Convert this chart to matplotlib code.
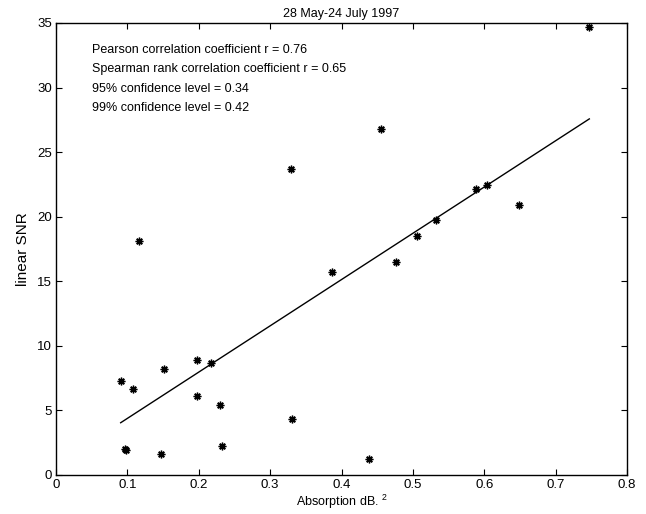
import numpy as np
import matplotlib
matplotlib.use("Agg")
import matplotlib.pyplot as plt

plt.rcParams['font.family'] = ['Liberation Sans', 'DejaVu Sans']
plt.rcParams['mathtext.fontset'] = 'custom'
plt.rcParams['mathtext.rm'] = 'Liberation Sans'
plt.rcParams['mathtext.it'] = 'Liberation Sans'

absorption = [0.0906, 0.1074, 0.0967, 0.0975, 0.147, 0.1518, 0.197, 0.197,
              0.2167, 0.2293, 0.233, 0.330, 0.3862, 0.4764, 0.4381, 0.7472,
              0.4553, 0.5884, 0.6034, 0.6483, 0.5328, 0.5062, 0.329, 0.1167]
snr = [7.30, 6.69, 1.99, 1.95, 1.63, 8.18, 8.90, 6.12,
       8.70, 5.39, 2.22, 4.31, 15.72, 16.52, 1.21, 34.71,
       26.77, 22.12, 22.43, 20.91, 19.75, 18.53, 23.67, 18.10]
fit_slope = 35.83
fit_intercept = 0.80
stats_lines = ["Pearson correlation coefficient r = 0.76",
               "Spearman rank correlation coefficient r = 0.65",
               "95% confidence level = 0.34",
               "99% confidence level = 0.42"]
xticks = [0, 0.1, 0.2, 0.3, 0.4, 0.5, 0.6, 0.7, 0.8]
xticklabels = ["0", "0.1", "0.2", "0.3", "0.4", "0.5", "0.6", "0.7", "0.8"]
yticks = [0, 5, 10, 15, 20, 25, 30, 35]

fig = plt.figure(figsize=(6.46, 5.14), dpi=100)
ax = fig.add_axes([0.0867, 0.0759, 0.8839, 0.8794])

x = np.array(absorption)
y = np.array(snr)
ax.plot(x, y, linestyle='none', marker=(8, 2, 0), markersize=5.5,
        markeredgewidth=1.0, color='black')
xl = np.array([x.min(), x.max()])
ax.plot(xl, fit_slope * xl + fit_intercept, color='black', linewidth=1.0)

ax.set_xlim(0, 0.8)
ax.set_ylim(0, 35)
ax.set_xticks(xticks)
ax.set_xticklabels(xticklabels)
ax.set_yticks(yticks)
ax.tick_params(direction='in', length=4, width=0.8, top=True, right=True,
               labelsize=9.5, pad=3)
for s in ax.spines.values():
    s.set_linewidth(1.0)

ax.set_title("28 May-24 July 1997", fontsize=9, pad=4)
ax.set_xlabel("Absorption dB. $^{2}$", fontsize=9, labelpad=1)
ax.set_ylabel("linear SNR", fontsize=11, labelpad=5)

ys = [32.9, 31.4, 29.9, 28.4]
for t, yy in zip(stats_lines, ys):
    ax.text(0.05, yy, t, fontsize=9, va='center', ha='left')

fig.savefig("out.png", dpi=100)
